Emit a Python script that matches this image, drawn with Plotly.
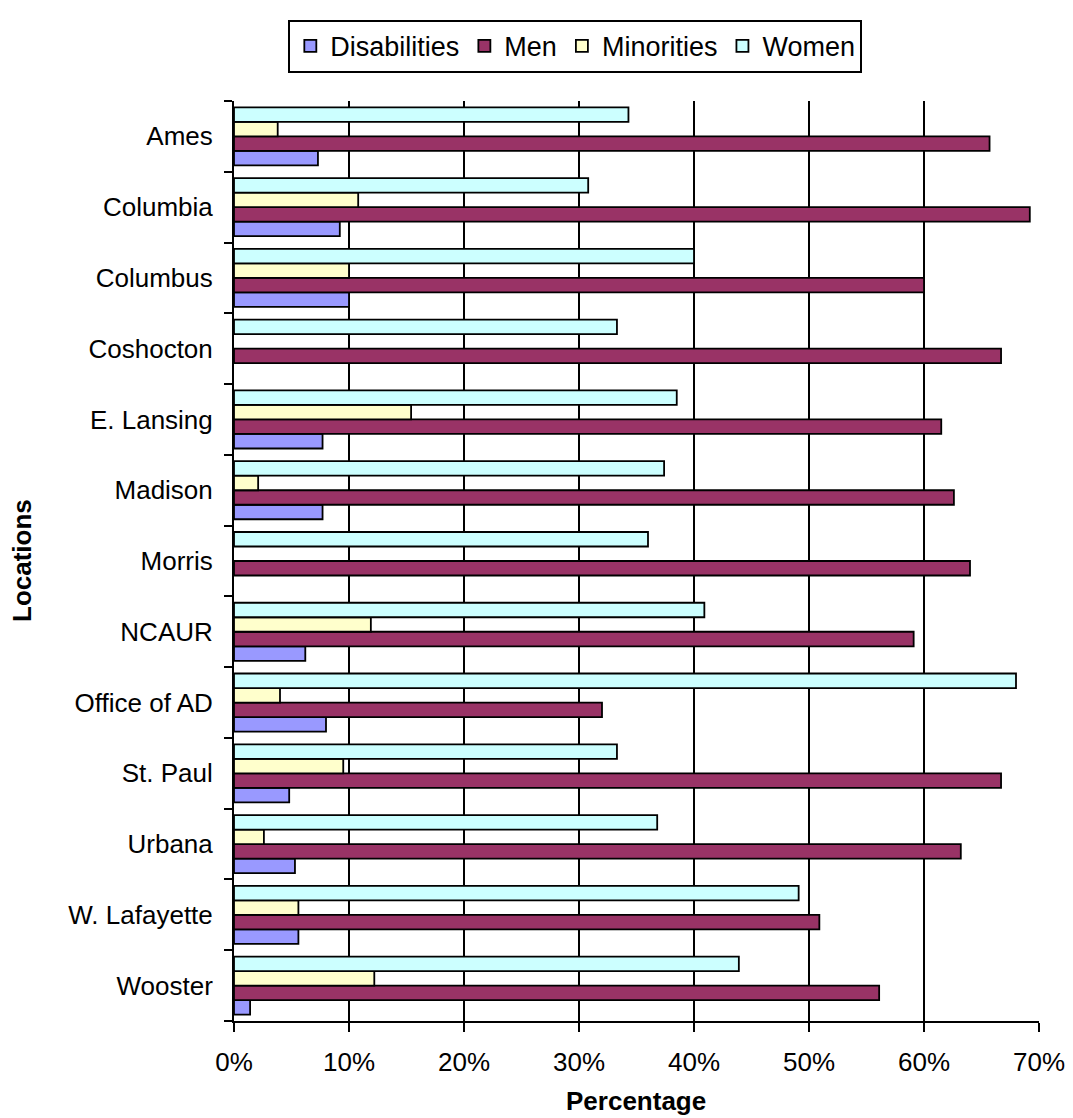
import plotly.graph_objects as go

locations = ["Ames", "Columbia", "Columbus", "Coshocton", "E. Lansing", "Madison", "Morris",
             "NCAUR", "Office of AD", "St. Paul", "Urbana", "W. Lafayette", "Wooster"]
disabilities = [7.3, 9.2, 10.0, None, 7.7, 7.7, None, 6.2, 8.0, 4.8, 5.3, 5.6, 1.4]
men = [65.7, 69.2, 60.0, 66.7, 61.5, 62.6, 64.0, 59.1, 32.0, 66.7, 63.2, 50.9, 56.1]
minorities = [3.8, 10.8, 10.0, None, 15.4, 2.1, None, 11.9, 4.0, 9.5, 2.6, 5.6, 12.2]
women = [34.3, 30.8, 40.0, 33.3, 38.5, 37.4, 36.0, 40.9, 68.0, 33.3, 36.8, 49.1, 43.9]
x_ticks = [0, 10, 20, 30, 40, 50, 60, 70]
x_tick_labels = ["0%", "10%", "20%", "30%", "40%", "50%", "60%", "70%"]

series = [
    ("Disabilities", disabilities, "#9999FF"),
    ("Men", men, "#993366"),
    ("Minorities", minorities, "#FFFFCC"),
    ("Women", women, "#CCFFFF"),
]

fig = go.Figure()
for name, vals, color in series:
    fig.add_trace(go.Bar(
        y=locations, x=vals, name=name, orientation="h",
        marker=dict(color=color, line=dict(color="black", width=1.8)),
    ))

T, B = 83, 97
H = 1110
PH = H - T - B

font_family = "Liberation Sans, Arial, sans-serif"
fig.update_layout(
    width=1065, height=H,
    margin=dict(l=226, r=34, t=T, b=B),
    barmode="group", bargap=0.18, bargroupgap=0,
    paper_bgcolor="white", plot_bgcolor="white",
    font=dict(family=font_family, size=26, color="black"),
    legend=dict(
        orientation="h", x=0.424, xanchor="center", y=1 + (T - 1) / PH, yanchor="top",
        bordercolor="black", borderwidth=2, bgcolor="white",
        font=dict(size=27), traceorder="normal", itemwidth=30,
        tracegroupgap=0,
    ),
    xaxis=dict(
        range=[0, 70], tickvals=x_ticks, ticktext=x_tick_labels,
        showgrid=True, gridcolor="black", gridwidth=1.5,
        showline=True, linecolor="black", linewidth=2,
        ticks="outside", ticklen=9, tickcolor="black", tickwidth=2,
        zeroline=False, ticklabelstandoff=8, automargin=False,
        tickfont=dict(size=26),
    ),
    yaxis=dict(
        categoryorder="array", categoryarray=locations[::-1],
        showgrid=False, showline=True, linecolor="black", linewidth=2,
        ticks="outside", tickson="boundaries", ticklen=8, tickcolor="black", tickwidth=2,
        ticklabelstandoff=14, automargin=False,
        tickfont=dict(size=26),
    ),
    annotations=[
        dict(text="<b>Locations</b>", xref="paper", yref="paper",
             x=(14 - 226) / 805, y=0.5, xanchor="center", yanchor="middle",
             textangle=-90, showarrow=False, font=dict(size=26)),
        dict(text="<b>Percentage</b>", xref="paper", yref="paper",
             x=(628 - 226) / 805, y=-(1094 - (H - B)) / PH, xanchor="center", yanchor="middle",
             showarrow=False, font=dict(size=26)),
    ],
)

fig.write_html("out.html")
